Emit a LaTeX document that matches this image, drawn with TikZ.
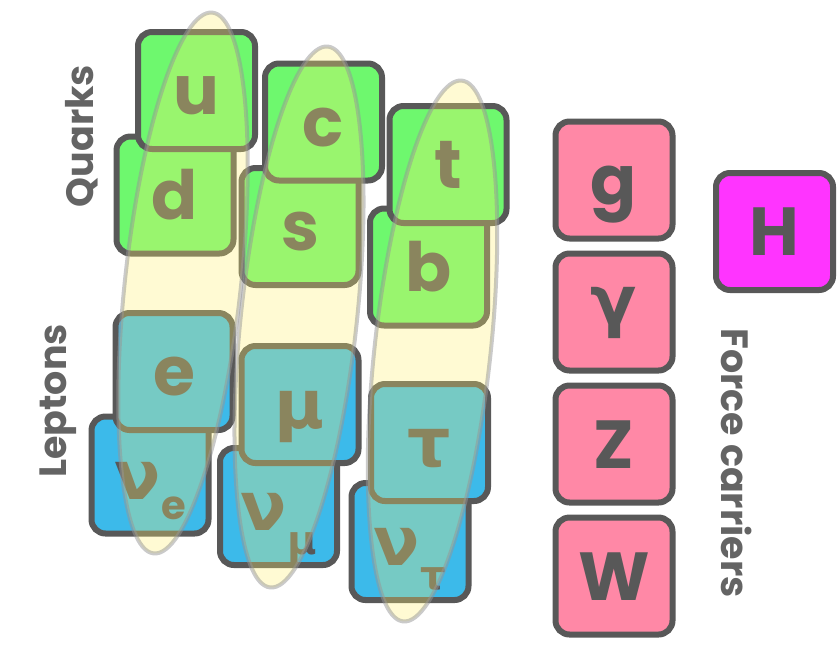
\documentclass[tikz,border=0pt]{standalone}
\usepackage{fontspec}
\setmainfont{Poppins}
\newfontfamily\greekfont{DejaVu Sans}
\usetikzlibrary{positioning}
\definecolor{quarkgreen}{RGB}{110,248,110}
\definecolor{leptonblue}{RGB}{60,186,234}
\definecolor{bosonpink}{RGB}{255,136,166}
\definecolor{higgspink}{RGB}{255,52,255}
\definecolor{edgegray}{RGB}{88,88,88}
\definecolor{bandyellow}{RGB}{255,240,110}
\definecolor{bandgray}{RGB}{150,150,150}
\definecolor{labelgray}{RGB}{100,100,100}
\newcommand{\gr}[1]{{\greekfont #1}}
\newcommand{\sub}[2][-20pt]{\kern1pt\raisebox{#1}{\fontsize{40}{40}\selectfont #2}}

\begin{document}
\begin{tikzpicture}[x=1pt,y=-1pt,node distance=9pt,
  particle/.style={draw=edgegray,line width=6pt,rounded corners=14pt,minimum size=117pt,inner sep=0pt,
    text=edgegray,font=\fontsize{68}{68}\selectfont\bfseries,text height=48pt,text depth=0pt},
  quark/.style={particle,fill=quarkgreen},
  lepton/.style={particle,fill=leptonblue},
  boson/.style={particle,fill=bosonpink},
  band/.style={fill=bandyellow,fill opacity=0.3,draw=bandgray,draw opacity=0.5,line width=4pt},
  grouplabel/.style={text=labelgray,font=\fontsize{38}{38}\selectfont\bfseries}]
\useasboundingbox (0,0) rectangle (837,649);
% quarks, lower one first
\node[quark] (d) at (175,195) {d};
\node[quark] (u) at (196.5,90.5) {u};
\node[quark] (s) at (300,226.5) {s};
\node[quark] (c) at (323.5,122) {c};
\node[quark] (b) at (428.5,267) {b};
\node[quark] (t) at (448,164.5) {t};
% leptons
\node[lepton] (nue) at (150,475) {\gr{ν}\sub{e}};
\node[lepton] (e) at (174,371.5) {e};
\node[lepton] (numu) at (278.5,506.5) {\gr{ν}\sub[-24pt]{\gr{μ}}};
\node[lepton] (mu) at (300,404.5) {\gr{μ}};
\node[lepton] (nutau) at (410,541.5) {\gr{ν}\sub[-24pt]{\gr{τ}}};
\node[lepton] (tau) at (429.5,442.5) {\gr{τ}};
% force carriers
\node[boson] (g) at (614,180) {g};
\node[boson,below=of g] (gamma) {\raisebox{12pt}{\gr{γ}}};
\node[boson,below=of gamma] (Z) {Z};
\node[boson,below=of Z] (W) {W};
\node[particle,fill=higgspink] (H) at (774.5,231.5) {H};
% generations
\draw[band,rotate around={-6.2:(183,283)}] (183,283) ellipse [x radius=58,y radius=272];
\draw[band,rotate around={-6.1:(299,317)}] (299,317) ellipse [x radius=58,y radius=272];
\draw[band,rotate around={-6.2:(432.5,351)}] (432.5,351) ellipse [x radius=58,y radius=272];
% labels
\node[grouplabel,rotate=90] (quarks) at (82,136) {Quarks};
\node[grouplabel,rotate=90] (leptons) at (58,401) {Leptons};
\node[grouplabel,rotate=-90] (carriers) at (737,463) {Force carriers};
\end{tikzpicture}
\end{document}
